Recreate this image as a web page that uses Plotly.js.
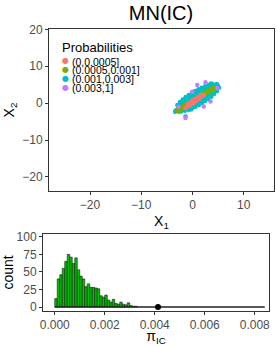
<!DOCTYPE html>
<html>
<head>
<meta charset="utf-8">
<script src="https://cdn.plot.ly/plotly-3.0.1.min.js"></script>
<style>html,body{margin:0;padding:0;background:#fff;}#chart{width:277px;height:346px;}</style>
</head>
<body>
<div id="chart"></div>
<script>
// ---- Scatter data: X1, X2 by probability class ----
const classLabels = ["(0,0.0005]", "(0.0005,0.001]", "(0.001,0.003]", "(0.003,1]"];
const classColors = ["#F8766D", "#7CAE00", "#00BFC4", "#C77CFF"];

const cyanX = [-3.22,-3.4,
 -2.95,-2.83,-2.71,-2.59,-2.47,-2.35,-2.23,
 -2.44,-2.28,-2.12,-1.96,-1.80,-1.64,-1.48,
 -1.90,-1.71,-1.52,-1.33,-1.14,-0.95,-0.76,
 -1.34,-1.13,-0.92,-0.71,-0.50,-0.29,-0.08,
 -0.74,-0.52,-0.30,-0.08,0.14,0.36,0.58,
 -0.14,0.09,0.32,0.55,0.78,1.01,1.24,
 0.49,0.72,0.95,1.18,1.41,1.64,1.87,
 1.15,1.37,1.59,1.81,2.03,2.25,2.47,
 1.81,2.02,2.23,2.44,2.65,2.86,3.07,
 2.47,2.67,2.87,3.07,3.27,3.47,3.67,
 3.18,3.35,3.52,3.69,3.86,4.03,4.20,
 3.90,4.04,4.18,4.32,4.46,4.60,4.74,
 4.74,4.88,5.02,5.16,-1.36,-0.3,3.6];
const cyanY = [-1.89,-2.3,
 -0.52,-0.80,-1.09,-1.38,-1.67,-1.96,-2.24,
 0.29,-0.10,-0.49,-0.88,-1.27,-1.66,-2.05,
 1.01,0.55,0.09,-0.37,-0.83,-1.29,-1.75,
 1.64,1.14,0.64,0.14,-0.36,-0.86,-1.36,
 2.23,1.70,1.17,0.64,0.11,-0.42,-0.95,
 2.77,2.23,1.69,1.15,0.61,0.07,-0.47,
 3.28,2.74,2.20,1.66,1.12,0.58,0.04,
 3.76,3.23,2.70,2.17,1.64,1.11,0.58,
 4.20,3.69,3.18,2.67,2.16,1.65,1.14,
 4.59,4.12,3.65,3.18,2.71,2.24,1.77,
 4.92,4.51,4.10,3.69,3.28,2.87,2.46,
 5.18,4.85,4.52,4.19,3.86,3.53,3.20,
 5.21,4.87,4.53,4.19,-3.6,-1.7,5.3];

const oliveX = [-3.0,-2.8,-2.6,-2.5,-2.3,-2.2,-2.0,-1.9,-1.7,-1.6,-1.4,-1.2,-2.7,-2.4,
 -0.6,0.0,0.6,1.2,
 1.8,2.1,2.4,2.7,3.0,3.3,3.6,3.9,4.2,2.5,3.1,3.5,4.0];
const oliveY = [-2.0,-1.9,-1.6,-1.3,-1.5,-1.1,-1.2,-0.8,-1.0,-0.6,-0.7,-0.3,-2.3,-2.0,
 0.1,0.7,1.2,1.7,
 2.3,2.6,2.8,3.0,3.3,3.5,3.8,4.0,4.3,2.5,3.0,3.3,3.8];

const salmonX = [-1.4,-1.1,-0.9,-0.6,-0.4,-0.1,0.2,0.5,0.8,1.1,1.4,1.7,2.0,2.2,-0.9,-0.2,0.4,1.0,1.6,-0.5,0.1,0.7,1.3];
const salmonY = [-1.4,-1.0,-0.7,-0.4,-0.1,0.2,0.5,0.8,1.0,1.3,1.6,1.9,2.1,2.2,-0.2,0.5,1.1,1.6,2.2,-0.7,-0.1,0.5,1.1];

const purpleX = [0.92,2.53,-1.36,-0.06,3.51,2.20,4.87,-2.73];
const purpleY = [4.92,5.65,-4.03,3.12,0.43,-0.91,4.11,-0.99];

// ---- Histogram data: pi_IC ----
const binWidth = 0.0001;
const binCounts = [12,40,46,55,65,75,71,62,70,53,44,40,29,33,28,28,27,26,16,14,17,10,7,11,5,4,7,4,3,6,2,1,1];
const histRangeEnd = 0.0084;
const observedPi = 0.00413;

const binCenters = binCounts.map((c, i) => (i + 0.5) * binWidth);

const W = 277, H = 346;
const px = v => v / W, py = v => 1 - v / H;

const mk = (x, y, c) => ({
  type: 'scatter', mode: 'markers', x: x, y: y, xaxis: 'x', yaxis: 'y',
  marker: {color: c, size: 4.5, line: {width: 0}}, showlegend: false, hoverinfo: 'skip'
});

const traces = [
  mk(cyanX, cyanY, classColors[2]),
  mk(oliveX, oliveY, classColors[1]),
  mk(salmonX, salmonY, classColors[0]),
  mk(purpleX, purpleY, classColors[3]),
  {type: 'scatter', mode: 'lines', x: [0, histRangeEnd], y: [0, 0], xaxis: 'x2', yaxis: 'y2',
   line: {color: '#222', width: 1.3}, showlegend: false, hoverinfo: 'skip'},
  {type: 'bar', x: binCenters, y: binCounts, width: binWidth, xaxis: 'x2', yaxis: 'y2',
   marker: {color: '#00c000', line: {color: '#1a1a1a', width: 0.6}}, showlegend: false, hoverinfo: 'skip'},
  {type: 'scatter', mode: 'markers', x: [observedPi], y: [0], xaxis: 'x2', yaxis: 'y2',
   marker: {color: '#000', size: 6}, showlegend: false, hoverinfo: 'skip', cliponaxis: false}
];

const fontFam = 'Liberation Sans, Arial, Helvetica, sans-serif';
const axCommon = {
  showgrid: false, zeroline: false, showline: true, mirror: true,
  linecolor: '#333', linewidth: 1, ticks: 'outside', ticklen: 3, tickwidth: 1, tickcolor: '#333',
  tickfont: {family: fontFam, size: 12, color: '#4d4d4d'}
};

const annotations = [
  {xref: 'paper', yref: 'paper', x: px(60), y: py(47), xanchor: 'left', yanchor: 'middle',
   text: 'Probabilities', showarrow: false, font: {family: fontFam, size: 13, color: '#000'}}
];
const rowY = [61, 69.8, 78.6, 87.4];
classLabels.forEach((lab, i) => {
  annotations.push({xref: 'paper', yref: 'paper', x: px(65), y: py(rowY[i]), xanchor: 'center', yanchor: 'middle',
    text: '●', showarrow: false, font: {family: 'DejaVu Sans', size: 8, color: classColors[i]}});
  annotations.push({xref: 'paper', yref: 'paper', x: px(70), y: py(rowY[i] + 0.5), xanchor: 'left', yanchor: 'middle',
    text: lab, showarrow: false, font: {family: fontFam, size: 10.5, color: '#000'}});
});

const layout = {
  width: W, height: H,
  margin: {l: 0, r: 0, t: 0, b: 0},
  paper_bgcolor: '#fff', plot_bgcolor: '#fff',
  bargap: 0,
  title: {text: 'MN(IC)', x: px(161), xanchor: 'center', y: 1 - 13 / H, yanchor: 'middle',
          font: {family: fontFam, size: 20, color: '#000'}},
  xaxis: Object.assign({}, axCommon, {
    domain: [px(49), px(274)], range: [-28, 15.9], tickvals: [-20, -10, 0, 10], anchor: 'y',
    title: {text: 'X<sub>1</sub>', standoff: 4, font: {family: fontFam, size: 14, color: '#000'}}
  }),
  yaxis: Object.assign({}, axCommon, {
    domain: [1 - 191 / H, 1 - 29 / H], range: [-23.8, 20.1], tickvals: [-20, -10, 0, 10, 20], anchor: 'x',
    title: {text: 'X<sub>2</sub>', standoff: 4, font: {family: fontFam, size: 14, color: '#000'}}
  }),
  xaxis2: Object.assign({}, axCommon, {
    domain: [px(43), px(269)], range: [-0.00047, 0.00857], tickvals: [0, 0.002, 0.004, 0.006, 0.008],
    ticktext: ['0.000', '0.002', '0.004', '0.006', '0.008'], anchor: 'y2',
    title: {text: 'π<sub>IC</sub>', standoff: 4, font: {family: fontFam, size: 14, color: '#000'}}
  }),
  yaxis2: Object.assign({}, axCommon, {
    domain: [1 - 311 / H, 1 - 234 / H], range: [-5.7, 104], tickvals: [0, 25, 50, 75, 100], anchor: 'x2',
    title: {text: 'count', standoff: 3, font: {family: fontFam, size: 14, color: '#000'}}
  }),
  annotations: annotations
};

Plotly.newPlot('chart', traces, layout, {staticPlot: true, displayModeBar: false});
</script>
</body>
</html>
